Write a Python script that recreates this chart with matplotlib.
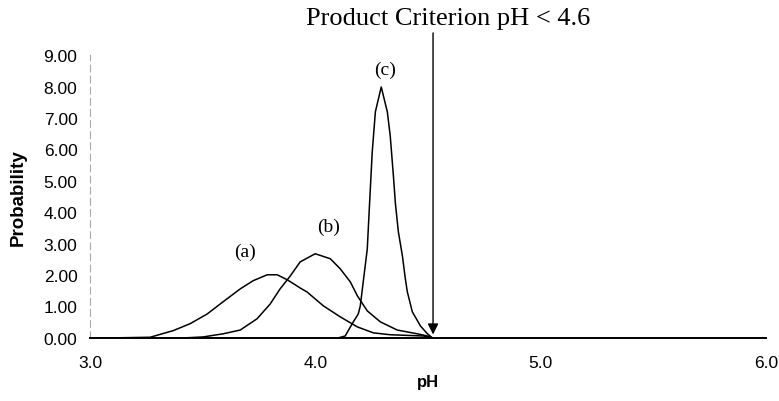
import matplotlib.pyplot as plt

# pH distributions for the three process cases
ph_a = [3.00, 3.10, 3.267, 3.369, 3.444, 3.520, 3.591, 3.667, 3.724, 3.787, 3.831, 3.876, 3.933,
        3.964, 4.036, 4.111, 4.187, 4.258, 4.333, 4.480, 4.52]
prob_a = [0.00, 0.00, 0.02, 0.23, 0.45, 0.76, 1.15, 1.56, 1.82, 2.01, 2.01, 1.85, 1.59,
          1.46, 1.02, 0.67, 0.35, 0.16, 0.10, 0.06, 0.00]

ph_b = [3.42, 3.502, 3.591, 3.667, 3.742, 3.800, 3.844, 3.889, 3.933, 4.000, 4.067, 4.111, 4.156,
        4.187, 4.231, 4.289, 4.364, 4.453, 4.498, 4.52]
prob_b = [0.00, 0.03, 0.13, 0.25, 0.61, 1.08, 1.56, 1.97, 2.42, 2.68, 2.52, 2.20, 1.78,
          1.34, 0.86, 0.51, 0.25, 0.13, 0.06, 0.00]

ph_c = [4.102, 4.133, 4.156, 4.169, 4.191, 4.200, 4.213, 4.231, 4.240, 4.253, 4.267, 4.293,
        4.320, 4.333, 4.347, 4.356, 4.369, 4.387, 4.400, 4.409, 4.431, 4.467, 4.498, 4.520]
prob_c = [0.00, 0.06, 0.35, 0.51, 0.76, 1.02, 1.78, 2.83, 4.11, 5.92, 7.20, 7.99,
          7.20, 6.43, 5.16, 4.27, 3.38, 2.61, 1.88, 1.46, 0.83, 0.38, 0.13, 0.00]

labels = ['(a)', '(b)', '(c)']
label_pos = [(3.69, 2.75), (4.06, 3.55), (4.31, 8.55)]

criterion_ph = 4.523
yticks = [0, 1, 2, 3, 4, 5, 6, 7, 8, 9]
xticks = [3.0, 4.0, 5.0, 6.0]

fig = plt.figure(figsize=(7.79, 4.02), dpi=100)
ax = fig.add_axes([0.1155, 0.157, 0.8675, 0.703])

for x, y in [(ph_a, prob_a), (ph_b, prob_b), (ph_c, prob_c)]:
    ax.plot(x, y, color='black', linewidth=1.1)

for txt, (x, y) in zip(labels, label_pos):
    ax.text(x, y, txt, family='Liberation Serif', fontsize=14, ha='center', va='center')

# criterion arrow running down from under the heading to the axis
ax.annotate('', xy=(criterion_ph, 0.02), xytext=(criterion_ph, 9.8),
            arrowprops=dict(arrowstyle='-|>', color='black', lw=1.0, mutation_scale=16),
            annotation_clip=False)
fig.text(0.575, 0.952, 'Product Criterion pH < 4.6', family='Liberation Serif',
         fontsize=19, ha='center', va='center')

ax.set_xlim(3.0, 6.0)
ax.set_ylim(0, 9)
ax.set_xticks(xticks)
ax.set_xticklabels(['%.1f' % t for t in xticks])
ax.set_yticks(yticks)
ax.set_yticklabels(['%.2f' % t for t in yticks])
ax.tick_params(length=0, labelsize=12.5, pad=9)
ax.tick_params(axis='x', pad=12)
for lab in ax.get_xticklabels() + ax.get_yticklabels():
    lab.set_family('Liberation Sans')

ax.set_xlabel('pH', family='Liberation Sans', fontsize=12, fontweight='bold', labelpad=3)
ax.set_ylabel('Probability', family='Liberation Sans', fontsize=13.5, fontweight='bold', labelpad=12)

ax.spines['top'].set_visible(False)
ax.spines['right'].set_visible(False)
ax.spines['bottom'].set_linewidth(1.4)
ax.spines['left'].set_color('#aaaaaa')
ax.spines['left'].set_linewidth(0.8)
ax.spines['left'].set_linestyle((0, (6, 4)))

fig.savefig('out.png', dpi=100)
